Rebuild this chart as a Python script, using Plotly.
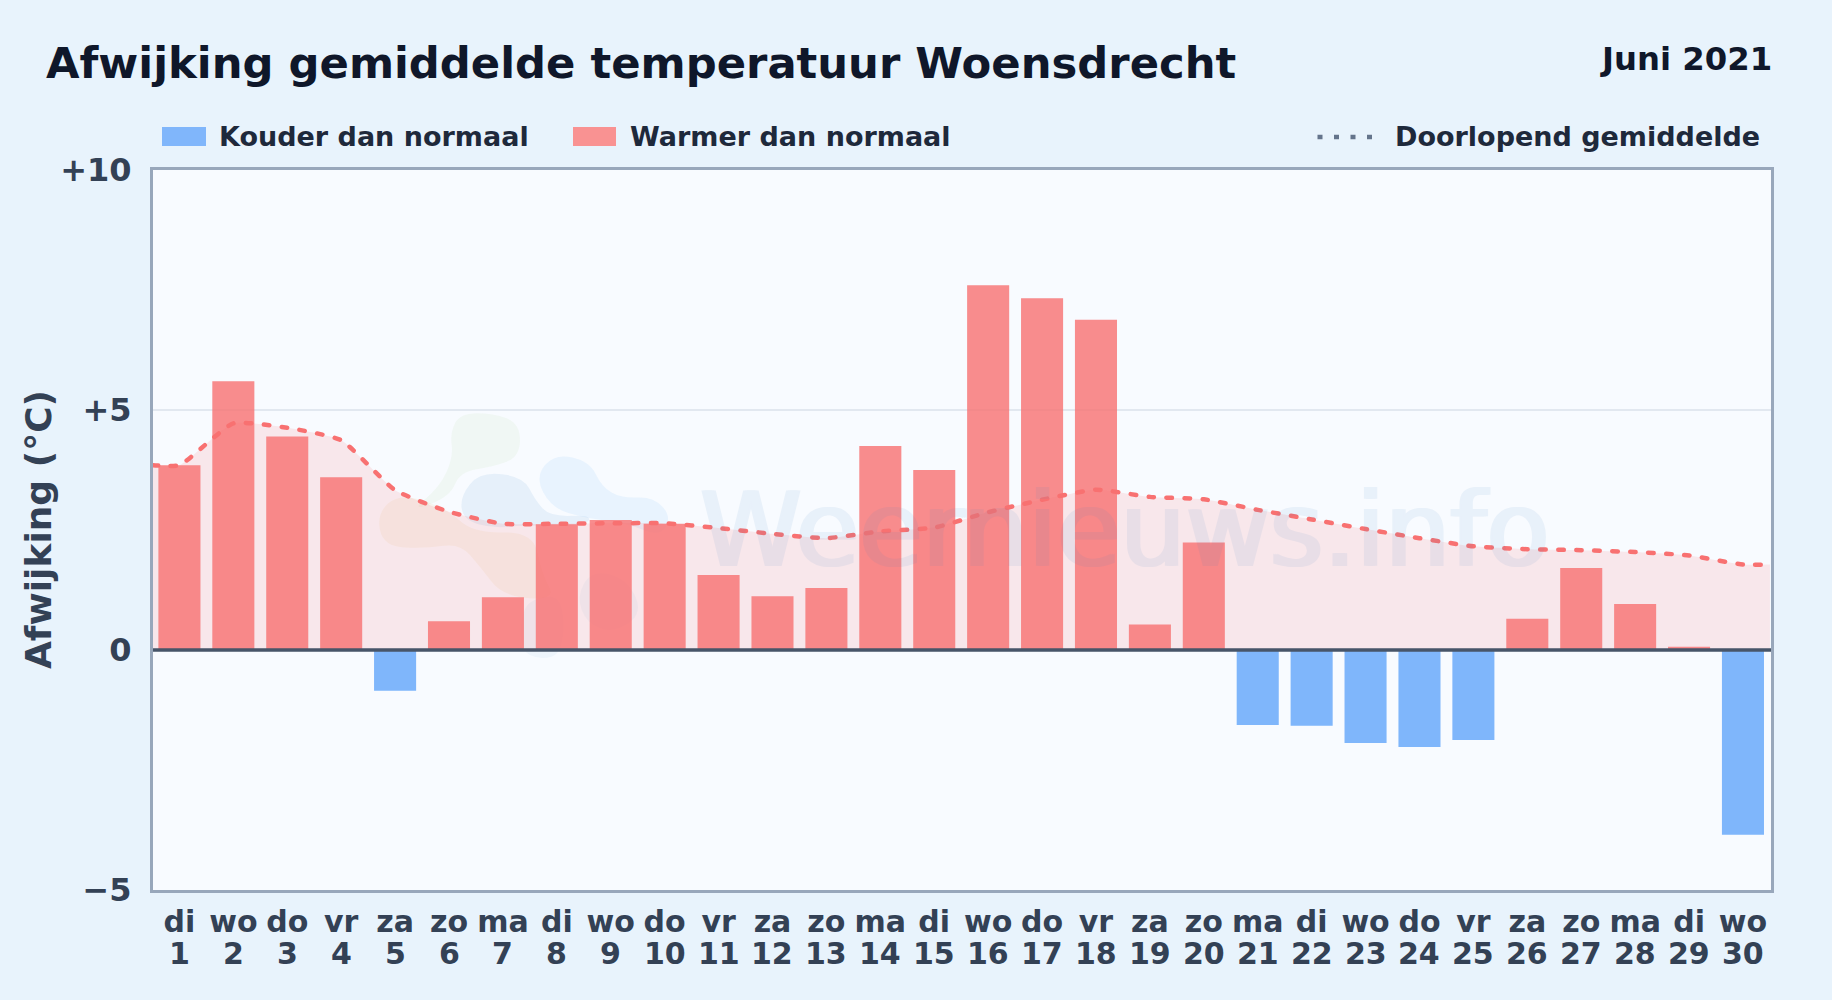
import plotly.graph_objects as go

weekdays = ["di","wo","do","vr","za","zo","ma","di","wo","do","vr","za","zo","ma","di","wo","do","vr","za","zo","ma","di","wo","do","vr","za","zo","ma","di","wo"]
days = list(range(1, 31))
deviation = [3.85,5.6,4.45,3.6,-0.85,0.6,1.1,2.62,2.71,2.63,1.56,1.12,1.29,4.25,3.75,7.6,7.33,6.88,0.53,2.24,-1.56,-1.58,-1.94,-2.02,-1.875,0.65,1.71,0.96,0.07,-3.85]
running_x = [0.5]+days+[30.5]
running = [3.85,3.85,4.72,4.63,4.37,3.33,2.88,2.63,2.63,2.64,2.64,2.54,2.42,2.33,2.47,2.55,2.87,3.13,3.34,3.19,3.14,2.92,2.72,2.52,2.33,2.16,2.10,2.08,2.04,1.97,1.78,1.78]
y_ticks = [-5,0,5,10]
y_labels = ["−5","0","+5","+10"]

W,H = 1832,1000
L,R,T,B = 153,1771,170,890
FONT = "DejaVu Sans"
px = lambda x: (x-L)/(R-L)
py = lambda y: (B-y)/(B-T)

cold_x=[d for d,v in zip(days,deviation) if v<0]
cold_y=[v for v in deviation if v<0]
warm_x=[d for d,v in zip(days,deviation) if v>=0]
warm_y=[v for v in deviation if v>=0]

fig=go.Figure()
fig.add_trace(go.Bar(x=warm_x,y=warm_y,name="Warmer dan normaal",width=0.78,marker=dict(color="#f87171",opacity=0.8,line_width=0)))
fig.add_trace(go.Bar(x=cold_x,y=cold_y,name="Kouder dan normaal",width=0.78,marker=dict(color="#60a5fa",opacity=0.8,line_width=0)))
fig.add_trace(go.Scatter(x=running_x,y=running,mode="lines",name="Doorlopend gemiddelde",
    line=dict(color="#f87171",width=4.5,dash="5.5px 12.5px",shape="spline",smoothing=0.5),
    fill="tozeroy",fillcolor="rgba(248,113,113,0.14)"))

def txt(x,y,s,size,color,anchor="left",**k):
    fig.add_annotation(xref="paper",yref="paper",x=px(x),y=py(y),text=s,showarrow=False,xanchor=anchor,yanchor="middle",
        font=dict(family=FONT,size=size,color=color,weight="bold"),**k)

txt(44,63.5,"Afwijking gemiddelde temperatuur Woensdrecht",43.3,"#0f172a")
txt(1774,59,"Juni 2021",32.3,"#0f172a","right")
txt(217,137,"Kouder dan normaal",27,"#1e293b")
txt(628,137,"Warmer dan normaal",27,"#1e293b")
txt(1762,137,"Doorlopend gemiddelde",27,"#1e293b","right")
txt(38,530,"Afwijking (°C)",36,"#334155","center",textangle=-90)
fig.add_annotation(xref="paper",yref="paper",x=px(1124),y=py(530),text="Weernieuws.info",showarrow=False,
    font=dict(family=FONT,size=103,color="#3b82c4",shadow="2px 0 #3b82c4, -2px 0 #3b82c4"),opacity=0.08)
for d in days:
    fig.add_annotation(xref="x",yref="paper",x=d,y=py(954),text=str(d),showarrow=False,yanchor="middle",
        font=dict(family=FONT,size=30,color="#334155",weight="bold"))

def blob(pts,color,ox=360,oy=400,s=3):
    P=[(ox+a/s,oy+b/s) for a,b in pts]
    n=len(P)
    mid=lambda a,b:((a[0]+b[0])/2,(a[1]+b[1])/2)
    f=lambda p:f"{px(p[0]):.5f},{py(p[1]):.5f}"
    d="M"+f(mid(P[-1],P[0]))
    for i in range(n):
        d+=" Q"+f(P[i])+" "+f(mid(P[i],P[(i+1)%n]))
    return dict(type="path",xref="paper",yref="paper",path=d+" Z",fillcolor=color,line_width=0,layer="below")

logo=[
 blob([(270,100),(300,40),(400,40),(480,70),(480,170),(400,200),(300,215),(270,290),(150,335),(240,260),(280,170)],"rgba(170,215,130,0.09)"),
 blob([(50,340),(120,280),(260,325),(340,400),(520,395),(545,520),(590,600),(430,590),(360,500),(300,430),(200,445),(70,440)],"rgba(240,190,110,0.11)"),
 blob([(300,290),(360,215),(490,230),(525,300),(570,350),(700,345),(670,380),(500,375),(400,385),(310,360)],"rgba(59,130,196,0.09)"),
 blob([(525,230),(585,160),(690,185),(725,260),(785,295),(880,290),(935,350),(900,410),(800,370),(680,355),(575,325)],"rgba(96,180,250,0.10)"),
 blob([(650,590),(695,510),(800,535),(850,640),(760,700),(680,670)],"rgba(59,130,196,0.05)"),
 blob([(485,630),(530,590),(610,590),(610,760),(540,780),(480,750)],"rgba(59,130,196,0.05)"),
]
shapes=logo+[
 dict(type="rect",xref="paper",yref="paper",x0=px(162),x1=px(206),y0=py(127),y1=py(146),fillcolor="#80b6fb",line_width=0),
 dict(type="rect",xref="paper",yref="paper",x0=px(573),x1=px(616),y0=py(127),y1=py(146),fillcolor="#f99292",line_width=0),
 dict(type="line",xref="paper",yref="paper",x0=px(1317.5),x1=px(1372),y0=py(137),y1=py(137),line=dict(color="#64748b",width=4.5,dash="5px 11.5px")),
 dict(type="line",xref="paper",x0=0,x1=1,y0=0,y1=0,yref="y",line=dict(color="#475569",width=3.5)),
]
fig.update_layout(
    width=W,height=H,autosize=False,showlegend=False,barmode="overlay",
    paper_bgcolor="#e8f3fc",plot_bgcolor="#f8fbff",
    margin=dict(l=L,r=W-R,t=T,b=H-B,pad=0),
    shapes=shapes,
    font=dict(family=FONT),
    xaxis=dict(range=[0.51,30.52],tickmode="array",tickvals=days,ticktext=weekdays,
        tickfont=dict(family=FONT,size=30,color="#334155",weight="bold"),showgrid=False,zeroline=False,
        showline=True,mirror=True,linecolor="#98a7bb",linewidth=3,ticks="outside",ticklen=3,tickcolor="rgba(0,0,0,0)",automargin=False),
    yaxis=dict(range=[-5,10],tickmode="array",tickvals=y_ticks,ticktext=y_labels,
        tickfont=dict(family=FONT,size=32,color="#334155",weight="bold"),gridcolor="#e2e8f0",gridwidth=1.5,zeroline=False,
        showline=True,mirror=True,linecolor="#98a7bb",linewidth=3,ticks="outside",ticklen=12,tickcolor="rgba(0,0,0,0)",automargin=False),
)
fig.write_html("out.html",config={"displayModeBar":False},post_script="""document.body.style.margin='0';document.body.style.background='#e8f3fc';
document.querySelectorAll('.scatterlayer .js-line').forEach(function(p){p.style.strokeLinecap='round';});""")
